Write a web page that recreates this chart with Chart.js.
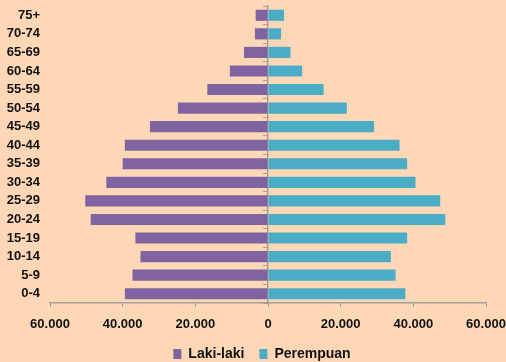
<!DOCTYPE html>
<html lang="id">
<head>
  <meta charset="UTF-8" />
  <title>Piramida Penduduk</title>
  <script src="https://cdn.jsdelivr.net/npm/chart.js"></script>
  <style>
    html, body { margin: 0; padding: 0; background: #fed8b6; }
    .wrap { width: 506px; height: 362px; }
  </style>
</head>
<body>
  <div class="wrap"><canvas id="pyramid"></canvas></div>

  <script>
    const ageGroups = ["75+", "70-74", "65-69", "60-64", "55-59", "50-54", "45-49", "40-44",
                       "35-39", "30-34", "25-29", "20-24", "15-19", "10-14", "5-9", "0-4"];
    const lakiLaki = [3400, 3600, 6600, 10500, 16700, 24800, 32500, 39400,
                      40000, 44500, 50300, 48800, 36500, 35100, 37300, 39400];
    const perempuan = [4400, 3600, 6200, 9400, 15300, 21700, 29200, 36200,
                       38300, 40600, 47400, 48800, 38300, 33800, 35100, 37800];
    const xTicks = [-60000, -40000, -20000, 0, 20000, 40000, 60000];

    const axisGray = "#a39e9b";
    const labelFont = { family: "'Liberation Sans', Arial, sans-serif", size: 13, weight: "bold" };

    function fmt(v) {
      return Math.abs(v).toString().replace(/\B(?=(\d{3})+(?!\d))/g, ".");
    }

    // nudge the legend a bit to the right, like in the original
    const legendShift = {
      id: "legendShift",
      afterLayout(chart) {
        if (chart.legend) { chart.legend.left += 9; chart.legend.right += 9; }
      }
    };

    new Chart(document.getElementById("pyramid"), {
      type: "bar",
      data: {
        labels: ageGroups,
        datasets: [
          { label: "Laki-laki", data: lakiLaki.map(v => -v), backgroundColor: "#8064a2",
            barPercentage: 0.6, categoryPercentage: 1 },
          { label: "Perempuan", data: perempuan, backgroundColor: "#4bacc6",
            barPercentage: 0.6, categoryPercentage: 1 }
        ]
      },
      options: {
        indexAxis: "y",
        responsive: true,
        maintainAspectRatio: false,
        animation: false,
        layout: { padding: { top: 6, right: 0, left: 0, bottom: -9 } },
        scales: {
          x: {
            stacked: true,
            min: -60000,
            max: 60000,
            afterBuildTicks: s => { s.ticks = xTicks.map(v => ({ value: v })); },
            grid: { drawOnChartArea: false, drawTicks: true, tickLength: 4, tickColor: axisGray },
            border: { color: axisGray, width: 1.5 },
            ticks: { color: "#111", font: labelFont, padding: 10, maxRotation: 0, callback: v => fmt(v) },
            afterFit: s => { s.paddingLeft = 0; s.paddingRight = 20; s.height = 29; }
          },
          y: {
            stacked: true,
            grid: { display: false, drawTicks: false },
            border: { display: false },
            ticks: { color: "#111", font: labelFont, padding: 10, autoSkip: false },
            afterFit: s => { s.width = 50; s.paddingTop = 0; s.paddingBottom = 0; }
          },
          y2: {
            type: "category",
            labels: ageGroups,
            position: { x: 0 },
            offset: true,
            grid: { offset: true, drawOnChartArea: false, drawTicks: true, tickLength: 4, tickColor: axisGray },
            border: { color: axisGray, width: 1.5 },
            ticks: { display: false },
            afterFit: s => { s.paddingTop = 0; s.paddingBottom = 0; }
          }
        },
        plugins: {
          tooltip: { enabled: false },
          legend: {
            position: "bottom",
            labels: {
              color: "#111",
              boxWidth: 8,
              boxHeight: 10,
              padding: 15,
              font: { family: "'Liberation Sans', Arial, sans-serif", size: 14, weight: "bold" }
            }
          }
        }
      },
      plugins: [legendShift]
    });
  </script>
</body>
</html>
